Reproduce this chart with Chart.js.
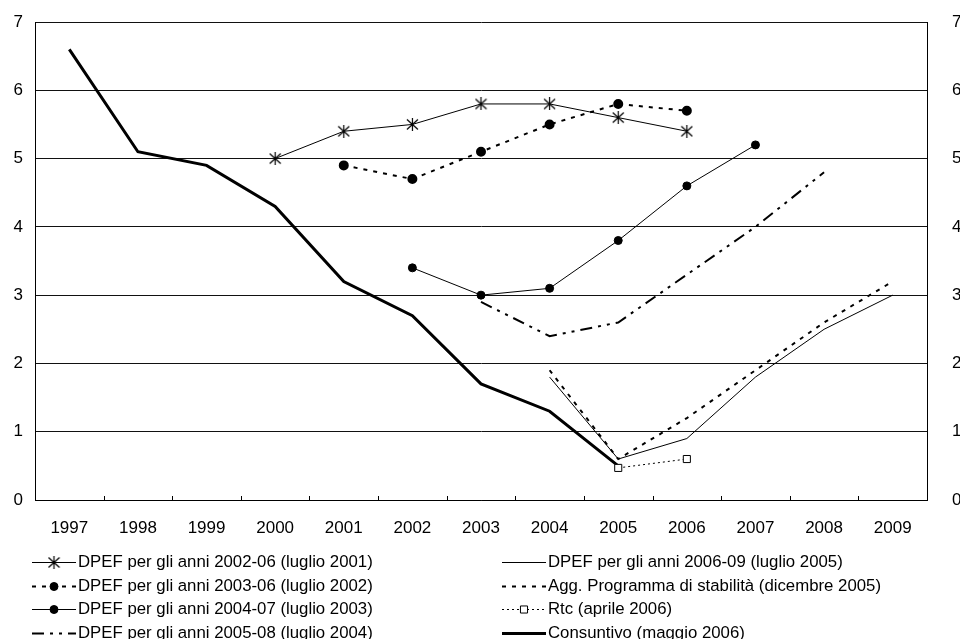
<!DOCTYPE html>
<html>
<head>
<meta charset="utf-8">
<script src="https://cdn.jsdelivr.net/npm/chart.js@4/dist/chart.umd.min.js"></script>
<style>
  html, body { margin: 0; padding: 0; background: #fff; overflow: hidden; }
  #wrap { width: 970px; height: 639px; }
</style>
</head>
<body>
<div id="wrap"><canvas id="lineChart" width="970" height="639"></canvas></div>
<script>
const years = ['1997', '1998', '1999', '2000', '2001', '2002', '2003', '2004', '2005', '2006', '2007', '2008', '2009'];
const yTicks = [0, 1, 2, 3, 4, 5, 6, 7];

const dpef2001 = [null, null, null, 5.0, 5.4, 5.5, 5.8, 5.8, 5.6, 5.4, null, null, null];
const dpef2002 = [null, null, null, null, 4.9, 4.7, 5.1, 5.5, 5.8, 5.7, null, null, null];
const dpef2003 = [null, null, null, null, null, 3.4, 3.0, 3.1, 3.8, 4.6, 5.2, null, null];
const dpef2004 = [null, null, null, null, null, null, 2.9, 2.4, 2.6, 3.3, 4.0, 4.8, null];
const dpef2005 = [null, null, null, null, null, null, null, 1.8, 0.6, 0.9, 1.8, 2.5, 3.0];
const aggStabilita = [null, null, null, null, null, null, null, 1.9, 0.6, 1.2, 1.9, 2.6, 3.2];
const rtc = [null, null, null, null, null, null, null, null, 0.47, 0.6, null, null, null];
const consuntivo = [6.6, 5.1, 4.9, 4.3, 3.2, 2.7, 1.7, 1.3, 0.5, null, null, null, null];

const labels = [
  'DPEF per gli anni 2002-06 (luglio 2001)',
  'DPEF per gli anni 2003-06 (luglio 2002)',
  'DPEF per gli anni 2004-07 (luglio 2003)',
  'DPEF per gli anni 2005-08 (luglio 2004)',
  'DPEF per gli anni 2006-09 (luglio 2005)',
  'Agg. Programma di stabilità (dicembre 2005)',
  'Rtc (aprile 2006)',
  'Consuntivo (maggio 2006)',
];

const FONT = 'Liberation Sans, Arial, sans-serif';

// asterisk marker
const star = document.createElement('canvas');
star.width = 13; star.height = 13;
(function () {
  const c = star.getContext('2d');
  c.strokeStyle = '#000';
  c.lineWidth = 1.2;
  c.beginPath();
  c.moveTo(6.5, 0); c.lineTo(6.5, 13);
  c.moveTo(1, 1.5); c.lineTo(12, 11.5);
  c.moveTo(12, 1.5); c.lineTo(1, 11.5);
  c.stroke();
})();

function series(data, extra) {
  return Object.assign({
    data: data,
    borderColor: '#000',
    backgroundColor: '#000',
    borderWidth: 1,
    pointRadius: 0,
    pointHoverRadius: 0,
    tension: 0,
    spanGaps: false,
  }, extra);
}

const datasets = [
  series(dpef2001, { label: labels[0], pointStyle: star, pointRadius: 6 }),
  series(dpef2002, { label: labels[1], borderWidth: 2, borderDash: [4, 6], pointStyle: 'circle', pointRadius: 4 }),
  series(dpef2003, { label: labels[2], pointStyle: 'circle', pointRadius: 4 }),
  series(dpef2004, { label: labels[3], borderWidth: 2, borderDash: [12, 6, 3, 6, 3, 6] }),
  series(dpef2005, { label: labels[4] }),
  series(aggStabilita, { label: labels[5], borderWidth: 2, borderDash: [4, 6] }),
  series(rtc, { label: labels[6], borderDash: [2, 3], pointStyle: 'rect', pointRadius: 5, backgroundColor: '#fff', pointBorderWidth: 1 }),
  series(consuntivo, { label: labels[7], borderWidth: 3 }),
];

// small tick marks between categories, inside the plot
const innerTicks = {
  id: 'innerTicks',
  afterDatasetsDraw(chart) {
    const x = chart.scales.x;
    const ctx = chart.ctx;
    const bottom = chart.chartArea.bottom;
    const half = (x.getPixelForValue(1) - x.getPixelForValue(0)) / 2;
    ctx.save();
    ctx.strokeStyle = '#000';
    ctx.lineWidth = 1;
    ctx.beginPath();
    for (let i = 1; i < years.length; i++) {
      const px = Math.round(x.getPixelForValue(i) - half) + 0.5;
      ctx.moveTo(px, bottom - 4);
      ctx.lineTo(px, bottom);
    }
    ctx.stroke();
    ctx.restore();
  },
};

// two-column legend under the plot
const twoColLegend = {
  id: 'twoColLegend',
  afterDraw(chart) {
    const ctx = chart.ctx;
    const cols = [{ x: 32, items: [0, 1, 2, 3] }, { x: 502, items: [4, 5, 6, 7] }];
    ctx.save();
    ctx.font = '16.8px ' + FONT;
    ctx.textBaseline = 'middle';
    ctx.fillStyle = '#000';
    cols.forEach(col => {
      col.items.forEach((di, row) => {
        const ds = chart.data.datasets[di];
        const y = Math.round(562 + row * 23.5) + 0.5;
        ctx.save();
        ctx.strokeStyle = '#000';
        ctx.lineWidth = ds.borderWidth;
        ctx.setLineDash(ds.borderDash || []);
        ctx.beginPath();
        ctx.moveTo(col.x, y);
        ctx.lineTo(col.x + 44, y);
        ctx.stroke();
        ctx.restore();
        if (ds.pointRadius > 0) {
          ctx.save();
          ctx.strokeStyle = '#000';
          ctx.fillStyle = ds.backgroundColor;
          ctx.lineWidth = 1;
          Chart.helpers.drawPoint(ctx, { pointStyle: ds.pointStyle, radius: ds.pointRadius, rotation: 0, borderWidth: 1 }, col.x + 22, y);
          ctx.restore();
        }
        ctx.fillText(ds.label, col.x + 46, y);
      });
    });
    ctx.restore();
  },
};

function fixY(width) {
  return function (scale) {
    scale.width = width;
    scale.paddingTop = 0;
    scale.paddingBottom = 0;
  };
}

new Chart(document.getElementById('lineChart'), {
  type: 'line',
  data: { labels: years, datasets: datasets },
  options: {
    responsive: false,
    animation: false,
    layout: { padding: { top: 22, left: 0, right: 0, bottom: 0 } },
    plugins: {
      legend: { display: false },
      tooltip: { enabled: false },
      title: { display: false },
    },
    scales: {
      x: {
        offset: true,
        grid: { display: false, drawTicks: false },
        border: { display: true, color: '#000', width: 1 },
        ticks: { color: '#000', font: { size: 17, family: FONT }, padding: 18, maxRotation: 0, autoSkip: false },
        afterFit(scale) { scale.height = 139; },
      },
      y: {
        position: 'left',
        min: 0,
        max: 7,
        afterBuildTicks(scale) { scale.ticks = yTicks.map(v => ({ value: v })); },
        grid: { color: '#111', lineWidth: 1, drawTicks: false },
        border: { display: true, color: '#000', width: 1 },
        ticks: { color: '#000', font: { size: 17, family: FONT }, padding: 12 },
        afterFit: fixY(35),
      },
      y2: {
        position: 'right',
        min: 0,
        max: 7,
        afterBuildTicks(scale) { scale.ticks = yTicks.map(v => ({ value: v })); },
        grid: { display: false, drawTicks: false },
        border: { display: true, color: '#000', width: 1 },
        ticks: { color: '#000', font: { size: 17, family: FONT }, padding: 25 },
        afterFit: fixY(43),
      },
    },
  },
  plugins: [innerTicks, twoColLegend],
});
</script>
</body>
</html>
